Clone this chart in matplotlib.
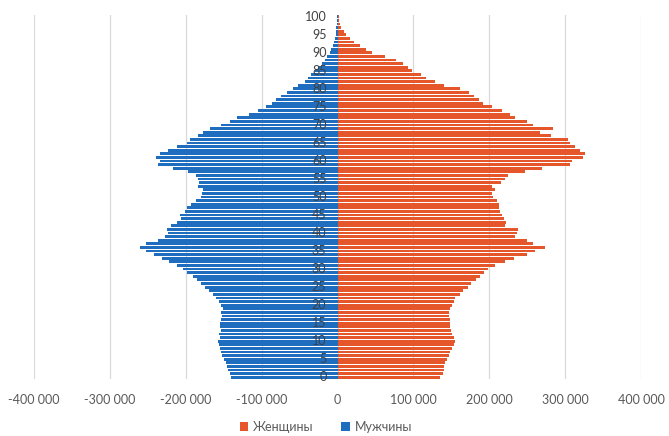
import matplotlib
matplotlib.use("Agg")
import matplotlib.pyplot as plt
from matplotlib.ticker import FuncFormatter
from matplotlib.patches import Patch

ages = list(range(0, 101))

men = [
    140000, 142000, 144000, 146000, 147000, 150000, 152000, 153000, 155000, 156000,
    157000, 155000, 156000, 154000, 155000, 155000, 153000, 152000, 153000, 151000,
    154000, 156000, 160000, 164000, 169000, 174000, 180000, 185000, 191000, 198000,
    204000, 212000, 222000, 231000, 242000, 252000, 260000, 252000, 236000, 228000,
    223000, 225000, 219000, 212000, 206000, 208000, 201000, 198000, 193000, 187000,
    180000, 179000, 177000, 184000, 182000, 184000, 186000, 197000, 217000, 236000,
    234000, 239000, 234000, 223000, 212000, 199000, 195000, 184000, 177000, 168000,
    153000, 142000, 133000, 116000, 105000, 94000, 86000, 81000, 74000, 67000,
    58000, 52000, 43000, 39000, 35000, 30000, 26000, 21000, 17000, 14000,
    10500, 8000, 6000, 4500, 3500, 2500, 2000, 1500, 1000, 700,
    500,
]

women = [
    135500, 138500, 140000, 141000, 142000, 144000, 146500, 148500, 151000, 153000,
    155500, 153000, 151000, 150000, 148500, 148500, 148500, 147000, 146500, 148500,
    151500, 153000, 155000, 161500, 166000, 172000, 176500, 182000, 187500, 192500,
    198500, 208000, 221000, 232000, 249500, 260500, 273500, 258000, 249500, 234000,
    236000, 237500, 221000, 221500, 219000, 216500, 214500, 213500, 213000, 210000,
    205000, 203000, 207000, 204000, 215000, 221000, 225000, 247000, 269000, 306500,
    308500, 324000, 326000, 320000, 313000, 306500, 304000, 282000, 267000, 284500,
    258000, 249500, 234000, 227500, 217000, 204000, 192000, 186000, 180000, 173500,
    162000, 140000, 128000, 117000, 110000, 98000, 93000, 86000, 77000, 63000,
    46000, 38000, 29000, 22000, 16000, 11500, 8000, 5000, 3000, 2000,
    1500,
]

x_ticks = [-400000, -300000, -200000, -100000, 0, 100000, 200000, 300000, 400000]
age_labels = list(range(0, 101, 5))

label_women = "Женщины"
label_men = "Мужчины"

color_women = "#E5562A"
color_men = "#1F6DBF"
grid_color = "#D9D9D9"

plt.rcParams["font.family"] = ["Lato", "DejaVu Sans"]

fig = plt.figure(figsize=(6.69, 4.36), dpi=100)
ax = fig.add_axes([34 / 669, (436 - 379) / 436, (641 - 34) / 669, (379 - 15) / 436])

ax.barh(ages, [-v for v in men], height=0.78, color=color_men, zorder=2)
ax.barh(ages, women, height=0.78, color=color_women, zorder=2)

ax.set_xlim(-400000, 400000)
ax.set_ylim(-0.5, 100.5)
ax.set_xticks(x_ticks)
ax.xaxis.set_major_formatter(
    FuncFormatter(lambda v, _: f"{int(v):,}".replace(",", " "))
)
ax.tick_params(axis="x", length=0, pad=11, labelsize=9, labelcolor="#595959")
ax.set_yticks([])
ax.grid(axis="x", color=grid_color, linewidth=0.9, zorder=0)
for side in ax.spines.values():
    side.set_visible(False)

# age labels sit just left of the zero line, over the bars
for a in age_labels:
    ax.annotate(str(a), xy=(0, a), xytext=(-8, 0), textcoords="offset points",
                ha="right", va="center", fontsize=9, color="#404040", zorder=3)

handles = [Patch(facecolor=color_women, label=label_women),
           Patch(facecolor=color_men, label=label_men)]
fig.legend(handles=handles, loc="center", bbox_to_anchor=(326 / 669, 1 - 427 / 436),
           ncol=2, frameon=False, fontsize=9, labelcolor="#595959",
           handlelength=0.7, handleheight=0.7, handletextpad=0.4, columnspacing=2.2)

fig.savefig("out.png", dpi=100)
